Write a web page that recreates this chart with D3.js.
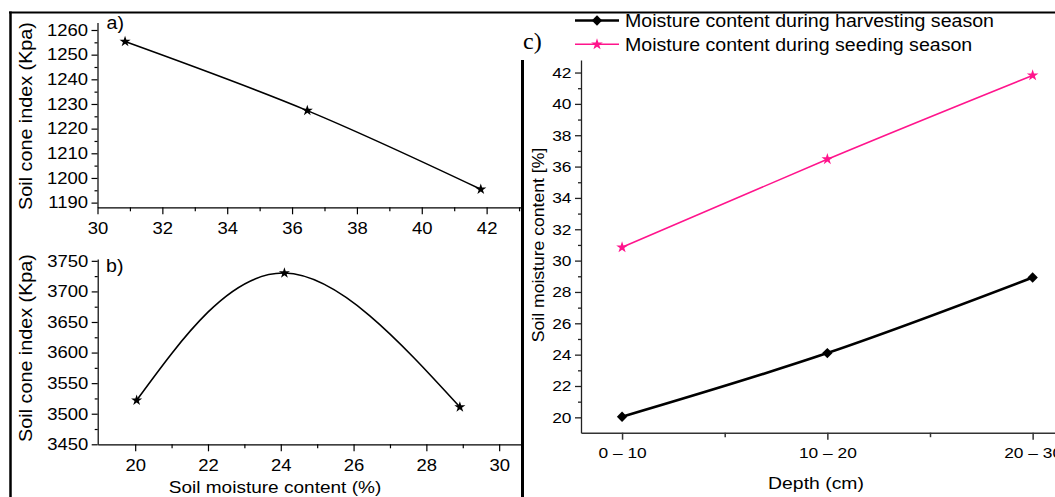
<!DOCTYPE html>
<html>
<head>
<meta charset="utf-8">
<script src="https://cdn.jsdelivr.net/npm/d3@7"></script>
<style>
  body { margin: 0; background: #fff; }
  svg { display: block; }
  text { font-family: "Liberation Sans", Arial, sans-serif; fill: #000; }
  text.serif { font-family: "Liberation Serif", "Times New Roman", serif; }
</style>
</head>
<body>
<div id="chart"></div>
<script>
// values
const seedingMoisture = [30.85, 36.47, 41.82];   // % moisture, seeding season
const harvestMoisture = [20.04, 24.1, 28.92];    // % moisture, harvesting season
const coneIndexSeeding = [1255.3, 1227.3, 1195.4];
const coneIndexHarvest = [3522, 3730, 3511];
const depthLabels = ['0 \u2013 10', '10 \u2013 20', '20 \u2013 30'];
const seriesNames = ['Moisture content during harvesting season', 'Moisture content during seeding season'];

const aXTicks = [30, 32, 34, 36, 38, 40, 42];
const aYTicks = [1190, 1200, 1210, 1220, 1230, 1240, 1250, 1260];
const bXTicks = [20, 22, 24, 26, 28, 30];
const bYTicks = [3450, 3500, 3550, 3600, 3650, 3700, 3750];
const cYTicks = [20, 22, 24, 26, 28, 30, 32, 34, 36, 38, 40, 42];

const W = 1055, H = 497;
const K = 1.12; // text in the figure is drawn a bit wide
const pink = '#ff148c';

const svg = d3.select('#chart').append('svg')
  .attr('width', W)
  .attr('height', H);

svg.append('rect').attr('width', W).attr('height', H).attr('fill', '#fff');

function widen(sel, k) {
  sel.each(function() {
    const t = d3.select(this);
    const x = +t.attr('x') || 0;
    const prev = t.attr('transform') || '';
    t.attr('transform', `${prev} translate(${x},0) scale(${k},1) translate(${-x},0)`);
  });
}

function label(txt, x, y, size, opts = {}) {
  const t = svg.append('text')
    .attr('transform', `translate(${x},${y})${opts.rotate ? ' rotate(-90)' : ''} scale(${opts.k || K},1)`)
    .attr('text-anchor', opts.anchor || 'start')
    .style('font-size', size + 'px')
    .text(txt);
  if (opts.cls) t.attr('class', opts.cls);
  return t;
}

// draws major + minor ticks for one axis
function axis(g, maker, scale, major, minor, o) {
  const a = maker(scale).tickValues(major).tickSize(o.major).tickPadding(o.pad).tickSizeOuter(0)
    .tickFormat(o.format || d3.format('d'));
  const ga = g.append('g').attr('transform', o.at).call(a);
  ga.select('.domain').attr('stroke', o.color).attr('stroke-width', o.sw);
  ga.selectAll('.tick line').attr('stroke', o.color).attr('stroke-width', o.sw);
  ga.attr('font-family', null).attr('font-size', null);
  ga.selectAll('text').style('font-size', o.font + 'px').attr('fill', '#000');
  widen(ga.selectAll('text'), K);
  const gm = g.append('g').attr('transform', o.at)
    .call(maker(scale).tickValues(minor).tickSize(o.minor).tickFormat('').tickSizeOuter(0));
  gm.select('.domain').remove();
  gm.selectAll('.tick line').attr('stroke', o.color).attr('stroke-width', o.sw);
}

function stars(data, x, y, color, size) {
  svg.append('g').selectAll('path')
    .data(data)
    .join('path')
    .attr('transform', d => `translate(${x(d[0])},${y(d[1])})`)
    .attr('d', d3.symbol(d3.symbolStar).size(size))
    .attr('fill', color);
}

const line = d3.line().curve(d3.curveNatural);

// ---------- frame ----------
svg.append('line').attr('x1', 9).attr('x2', W).attr('y1', 12.5).attr('y2', 12.5)
  .attr('stroke', '#000').attr('stroke-width', 2);
svg.append('line').attr('x1', 10.5).attr('x2', 10.5).attr('y1', 11.5).attr('y2', H)
  .attr('stroke', '#000').attr('stroke-width', 2.5);
svg.append('line').attr('x1', 522.5).attr('x2', 522.5).attr('y1', 60).attr('y2', H)
  .attr('stroke', '#000').attr('stroke-width', 3);

// ---------- panel a ----------
const ax = d3.scaleLinear().domain([30, 43.06]).range([97.5, 521]);
const ay = d3.scaleLinear().domain([1188.1, 1263]).range([207.3, 22.6]);
const ga = svg.append('g');
axis(ga, d3.axisLeft, ay, aYTicks, d3.range(1195, 1260, 10),
  { at: `translate(${ax.range()[0]},0)`, major: 6, minor: 3, pad: 3.5, font: 16.5, color: '#000', sw: 1.2 });
axis(ga, d3.axisBottom, ax, aXTicks, [31, 33, 35, 37, 39, 41, 43],
  { at: `translate(0,${ay.range()[0]})`, major: 7, minor: 4, pad: 7.5, font: 16.5, color: '#000', sw: 1.2 });

const aData = seedingMoisture.map((m, i) => [m, coneIndexSeeding[i]]);
svg.append('path')
  .attr('d', line(aData.map(d => [ax(d[0]), ay(d[1])])))
  .attr('fill', 'none').attr('stroke', '#000').attr('stroke-width', 1.6);
stars(aData, ax, ay, '#000', 38);

label('Soil cone index (Kpa)', 32, 116, 17.5, { rotate: true, anchor: 'middle', k: 1.13 });
label('a)', 106.5, 29, 17.5);

// ---------- panel b ----------
const bx = d3.scaleLinear().domain([18.97, 30.6]).range([97.7, 521]);
const by = d3.scaleLinear().domain([3450, 3753]).range([444.3, 259]);
const gb = svg.append('g');
axis(gb, d3.axisLeft, by, bYTicks, d3.range(3475, 3750, 50),
  { at: `translate(${bx.range()[0]},0)`, major: 6, minor: 3, pad: 3.5, font: 16.5, color: '#000', sw: 1.2 });
axis(gb, d3.axisBottom, bx, bXTicks, [21, 23, 25, 27, 29],
  { at: `translate(0,${by.range()[0]})`, major: 7, minor: 4, pad: 7.5, font: 16.5, color: '#000', sw: 1.2 });

const bData = harvestMoisture.map((m, i) => [m, coneIndexHarvest[i]]);
svg.append('path')
  .attr('d', line(bData.map(d => [bx(d[0]), by(d[1])])))
  .attr('fill', 'none').attr('stroke', '#000').attr('stroke-width', 1.6);
stars(bData, bx, by, '#000', 38);

label('Soil cone index (Kpa)', 32, 348, 17.5, { rotate: true, anchor: 'middle', k: 1.13 });
label('b)', 106, 272, 17.5);
label('Soil moisture content (%)', 275, 492.5, 17, { anchor: 'middle' });

// ---------- panel c ----------
const cx = d3.scaleLinear().domain([-0.2, 2.2]).range([581, 1073.7]);
const cy = d3.scaleLinear().domain([19.02, 42.8]).range([432.7, 60]);
const gc = svg.append('g');
axis(gc, d3.axisLeft, cy, cYTicks, d3.range(21, 42, 2),
  { at: `translate(${cx.range()[0]},0)`, major: 6, minor: 3, pad: 3.5, font: 15.5, color: '#222', sw: 1.3 });
axis(gc, d3.axisBottom, cx, [0, 1, 2], [0.5, 1.5],
  { at: `translate(0,${cy.range()[0]})`, major: 7, minor: 4.5, pad: 7.5, font: 15.5, color: '#333', sw: 1.5,
    format: i => depthLabels[i] });

const harvestPts = harvestMoisture.map((v, i) => [i, v]);
const seedingPts = seedingMoisture.map((v, i) => [i, v]);

svg.append('path')
  .attr('d', line(seedingPts.map(d => [cx(d[0]), cy(d[1])])))
  .attr('fill', 'none').attr('stroke', pink).attr('stroke-width', 1.6);
stars(seedingPts, cx, cy, pink, 42);

svg.append('path')
  .attr('d', line(harvestPts.map(d => [cx(d[0]), cy(d[1])])))
  .attr('fill', 'none').attr('stroke', '#000').attr('stroke-width', 2.6);
svg.append('g').selectAll('path')
  .data(harvestPts)
  .join('path')
  .attr('transform', d => `translate(${cx(d[0])},${cy(d[1])}) rotate(45)`)
  .attr('d', d3.symbol(d3.symbolSquare).size(54))
  .attr('fill', '#000');

label('Soil moisture content [%]', 543.5, 245, 16, { rotate: true, anchor: 'middle', k: 1.1 });
label('Depth (cm)', 816, 489, 17.3, { anchor: 'middle' });
label('c)', 523, 48.5, 24, { cls: 'serif', k: 1 });

// legend
const legend = svg.append('g');
const legendY = [20.5, 44.3];
legend.append('line').attr('x1', 575).attr('x2', 619).attr('y1', legendY[0]).attr('y2', legendY[0])
  .attr('stroke', '#000').attr('stroke-width', 2.6);
legend.append('path').attr('transform', `translate(597,${legendY[0]}) rotate(45)`)
  .attr('d', d3.symbol(d3.symbolSquare).size(54)).attr('fill', '#000');
legend.append('line').attr('x1', 575).attr('x2', 619).attr('y1', legendY[1]).attr('y2', legendY[1])
  .attr('stroke', pink).attr('stroke-width', 1.6);
legend.append('path').attr('transform', `translate(597,${legendY[1]})`)
  .attr('d', d3.symbol(d3.symbolStar).size(42)).attr('fill', pink);
seriesNames.forEach((s, i) => label(s, 625, legendY[i] + 6.3, 17.5));
</script>
</body>
</html>
